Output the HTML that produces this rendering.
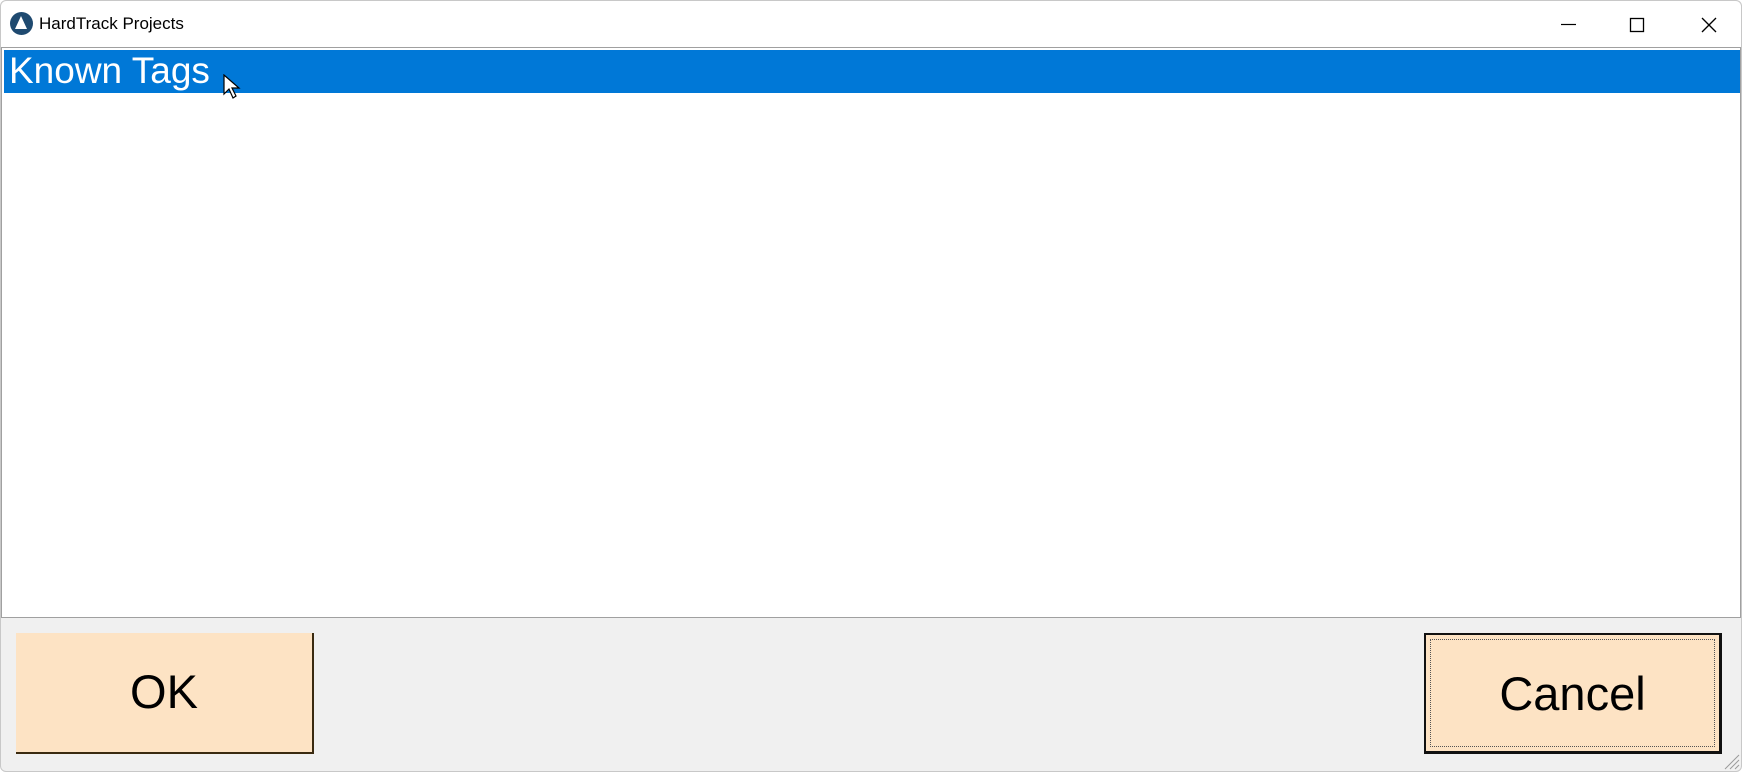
<!DOCTYPE html>
<html><head><meta charset="utf-8"><style>
*{margin:0;padding:0;box-sizing:border-box}
body{width:1742px;height:774px;background:#fff;position:relative;overflow:hidden;font-family:"Liberation Sans",sans-serif}
.win{position:absolute;left:0;top:0;width:1742px;height:772px;border:1px solid #c8c8c8;border-radius:6px;background:#f0f0f0}
.title{position:absolute;left:0;top:0;width:1740px;height:46px;background:#fff;border-radius:6px 6px 0 0}
.title span{position:absolute;left:38px;top:13px;font-size:17px;color:#000}
.icon{position:absolute;left:9px;top:11px;width:23px;height:23px;border-radius:50%;background:#1f4a70}
.icon:after{content:"";position:absolute;left:5px;top:4px;border-left:6px solid transparent;border-right:6px solid transparent;border-bottom:13px solid #fff}
.list{position:absolute;left:0;top:46px;width:1740px;height:571px;background:#fff;border:1px solid #a0a0a0}
.sel{position:absolute;left:2px;top:2px;right:0;height:43px;background:#0078d7;color:#fff;font-size:37px;padding-left:5px;line-height:42px}
.btn{position:absolute;top:632px;height:121px;width:298px;background:#fde3c4;font-size:47px;text-align:center;line-height:118px;color:#000}
.ok{left:15px;border-right:2px solid #3a2a10;border-bottom:2px solid #3a2a10}
.cancel{left:1423px;border:2px solid #111;border-right-width:3px;border-bottom-width:3px}
.cancel:before{content:"";position:absolute;left:4px;top:4px;right:4px;bottom:4px;border:1px dotted #555}
</style></head><body>
<div class="win">
<div class="title"><div class="icon"></div><span>HardTrack Projects</span>
<svg style="position:absolute;left:1560px;top:14px" width="170" height="20">
<line x1="0" y1="9.5" x2="15" y2="9.5" stroke="#000" stroke-width="1.2"/>
<rect x="69.5" y="3.5" width="13" height="13" fill="none" stroke="#000" stroke-width="1.3"/>
<line x1="141" y1="3" x2="155" y2="17" stroke="#000" stroke-width="1.3"/>
<line x1="155" y1="3" x2="141" y2="17" stroke="#000" stroke-width="1.3"/>
</svg></div>
<div class="list"><div class="sel">Known Tags</div>
<svg style="position:absolute;left:221px;top:26px" width="20" height="28"><path d="M1 1 L1 20 L6 15 L10 24 L13 22 L9 14 L16 14 Z" fill="#fff" stroke="#000" stroke-width="1.2"/></svg>
</div>
<div class="btn ok">OK</div>
<div class="btn cancel">Cancel</div>
<svg style="position:absolute;left:1722px;top:752px" width="18" height="18"><line x1="2" y1="16" x2="16" y2="2" stroke="#999"/><line x1="7" y1="16" x2="16" y2="7" stroke="#999"/><line x1="12" y1="16" x2="16" y2="12" stroke="#999"/></svg>
</div>
</body></html>
